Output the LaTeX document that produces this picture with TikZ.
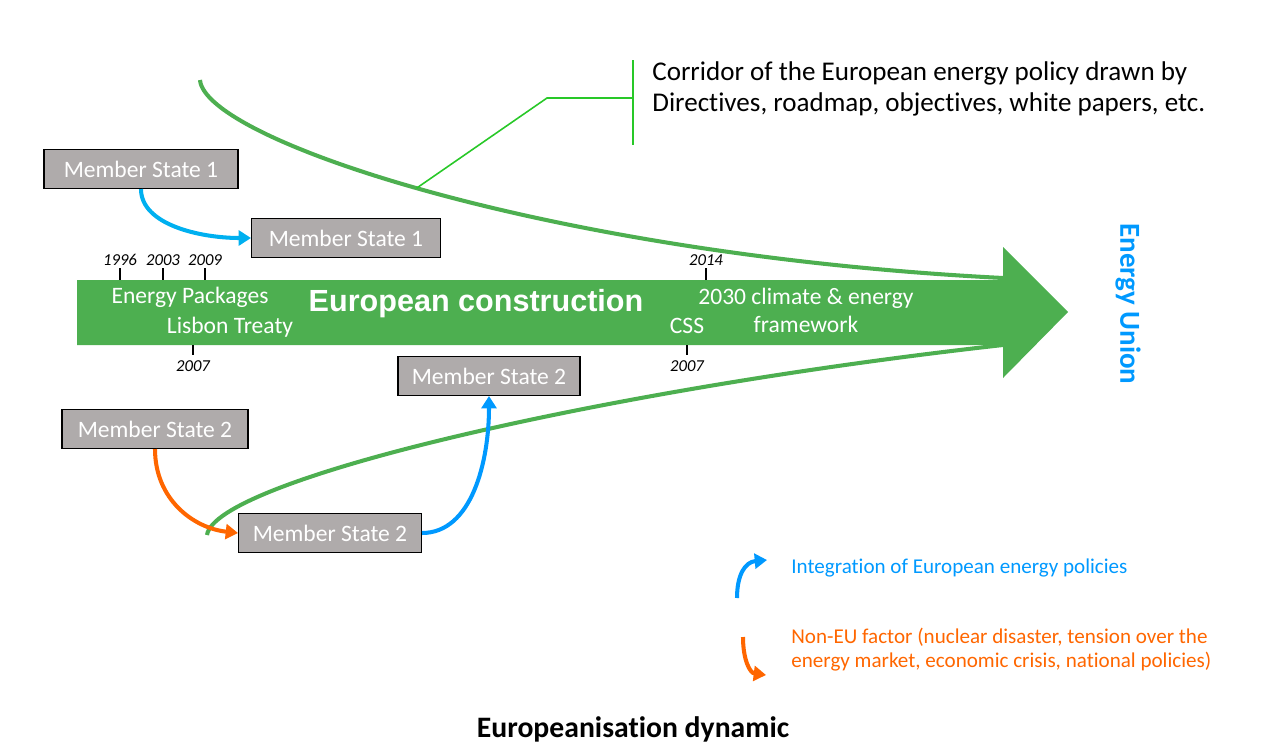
\documentclass[tikz,border=0pt]{standalone}
\usepackage{fontspec}
\setmainfont[Ligatures=NoCommon]{Carlito}
\newfontfamily\heavyfont{Liberation Sans}
\usetikzlibrary{positioning,arrows.meta}
\definecolor{barGreen}{RGB}{77,175,80}
\definecolor{callGreen}{RGB}{40,200,40}
\definecolor{boxGrey}{RGB}{175,171,171}
\definecolor{intBlue}{RGB}{0,176,240}
\definecolor{euBlue}{RGB}{0,153,255}
\definecolor{extOrange}{RGB}{255,102,0}
\tikzset{
    member/.style={draw=black, line width=0.6pt, fill=boxGrey, text=white, minimum width=3.72cm, minimum height=0.78cm, font=\fontsize{13.4}{16}\selectfont},
    year/.style={font=\fontsize{9.5}{11}\selectfont\itshape, inner sep=0pt},
    onbar/.style={text=white, font=\fontsize{13.4}{16}\selectfont, inner sep=0pt},
    corridor/.style={barGreen, line width=2.3pt},
    flow/.style={line width=2.3pt, -{Triangle[length=7pt,width=8.5pt]}},
}

\begin{document}
\begin{tikzpicture}[x=0.02cm, y=-0.02cm]
        \useasboundingbox (0,0) rectangle (1264,754);
        % the big arrow
        \fill[barGreen] (77,280) -- (1003,280) -- (1003,247) -- (1068,312) -- (1003,378) -- (1003,345) -- (77,345) -- cycle;
        \foreach \x/\yr in {120/1996,163/2003,205/2009,706/2014}
            \draw[line width=0.9pt] (\x,268) -- (\x,280) node[year, above=8pt] {\yr};
        \foreach \x/\yr in {193/2007,687/2007}
            \draw[line width=0.9pt] (\x,345) -- (\x,355) node[year, below=3pt] {\yr};
        \node[onbar] (packages) at (190,297) {Energy Packages};
        \node[onbar] (lisbon) at (230,327) {Lisbon Treaty};
        \node[text=white, inner sep=0pt, font=\fontsize{17.4}{20}\selectfont\heavyfont\bfseries] (construction) at (476,304) {European construction};
        \node[onbar] (css) at (687,326) {CSS};
        \node[onbar, align=center, font=\fontsize{13.4}{15.9}\selectfont] (framework) at (806,310) {2030 climate \& energy\\framework};
        \node[text=euBlue, rotate=-90, font=\fontsize{16.5}{19}\selectfont\bfseries] (union) at (1128,304) {Energy Union};

        % corridor
        \draw[corridor] (200,80) .. controls (205,140) and (550,255) .. (1003,278) coordinate[pos=0.48] (foot);
        \draw[corridor] (207,535) .. controls (215,480) and (600,390) .. (1003,345);
        \coordinate (knee) at (547,98);
        \coordinate (brace) at (633,98);
        \draw[callGreen, line width=0.9pt] (foot) -- (knee) -- (brace);
        \draw[callGreen, line width=0.9pt] (633,60) -- (633,145);
        \node[anchor=west, align=left, inner sep=0pt, font=\fontsize{15.4}{18.1}\selectfont] (corridortext) at (652,89) {Corridor of the European energy policy drawn by\\Directives, roadmap, objectives, white papers, etc.};

        % member states
        \node[member, minimum width=3.88cm] (ms1) at (141,169) {Member State 1};
        \node[member, minimum width=3.78cm] (ms1b) at (346,238) {Member State 1};
        \node[member, minimum width=3.72cm] (ms2) at (155,429) {Member State 2};
        \node[member, minimum width=3.66cm] (ms2b) at (330,533) {Member State 2};
        \node[member, minimum width=3.64cm] (ms2c) at (489,376) {Member State 2};
        \draw[flow, intBlue] (ms1.south) .. controls ++(0,36) and ++(-50,0) .. (ms1b.west);
        \draw[flow, extOrange] (ms2.south) .. controls ++(0,50) and ++(-45,-5) .. (ms2b.west);
        \draw[flow, euBlue] (ms2b.east) .. controls ++(50,0) and ++(0,65) .. (ms2c.south);

        % legend
        \coordinate (lb1) at (737,598);
        \coordinate (lb2) at (767,560);
        \coordinate (lo1) at (743,637);
        \coordinate (lo2) at (766,675);
        \draw[flow, euBlue] (lb1) .. controls (737,575) and (745,562) .. (lb2);
        \draw[flow, extOrange] (lo1) .. controls (743,660) and (750,673) .. (lo2);
        \node[anchor=west, inner sep=0pt, text=euBlue, font=\fontsize{12}{13.6}\selectfont] (integration) at (791,568) {Integration of European energy policies};
        \node[anchor=west, align=left, inner sep=0pt, text=extOrange, font=\fontsize{12}{13.6}\selectfont] (nonEU) at (791,650) {Non-EU factor (nuclear disaster, tension over the\\energy market, economic crisis, national policies)};

        \node[font=\fontsize{16.9}{19}\selectfont\bfseries] (title) at (633,729) {Europeanisation dynamic};
\end{tikzpicture}
\end{document}
